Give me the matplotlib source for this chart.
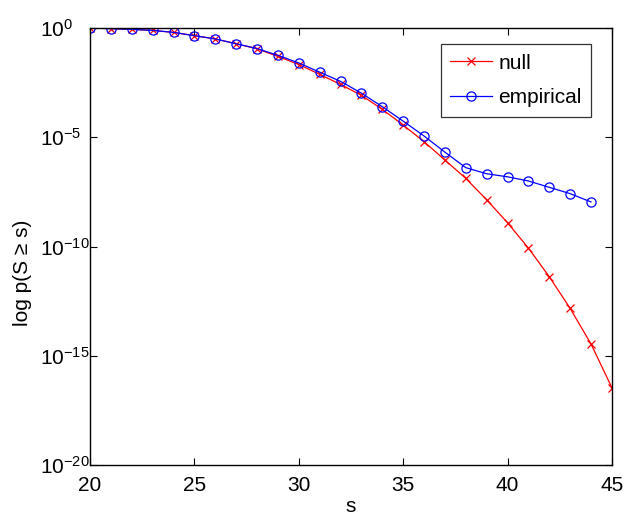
import numpy as np
import matplotlib
matplotlib.use('Agg')
import matplotlib.pyplot as plt

plt.rcParams['font.family'] = ['Liberation Sans', 'DejaVu Sans']
plt.rcParams['mathtext.fontset'] = 'custom'
plt.rcParams['mathtext.rm'] = 'Liberation Sans'
plt.rcParams['mathtext.it'] = 'Liberation Sans:italic'
plt.rcParams['font.size'] = 15

s_null = np.arange(20, 46)
log_null = [0.0, -0.03, -0.06, -0.11, -0.2, -0.35, -0.5, -0.72, -0.95,
            -1.3, -1.67, -2.12, -2.58, -3.08, -3.72, -4.44, -5.2, -6.04,
            -6.88, -7.86, -8.91, -10.07, -11.38, -12.83, -14.46, -16.46]

s_emp = np.arange(20, 45)
log_emp = [0.0, -0.03, -0.06, -0.11, -0.2, -0.35, -0.5, -0.72, -0.94,
           -1.25, -1.6, -2.02, -2.44, -2.98, -3.6, -4.26, -4.94, -5.68,
           -6.39, -6.67, -6.81, -7.0, -7.29, -7.58, -7.96]

p_null = 10.0 ** np.array(log_null)
p_emp = 10.0 ** np.array(log_emp)

fig = plt.figure(figsize=(6.25, 5.14), dpi=100)
ax = fig.add_axes([0.144, 0.0953, 0.835, 0.8502])

ax.semilogy(s_null, p_null, color='red', marker='x', markersize=5.5,
            linewidth=0.9, markeredgewidth=0.9, label='null')
ax.semilogy(s_emp, p_emp, color='blue', marker='o', markersize=6.6,
            markerfacecolor='none', linewidth=0.9, markeredgewidth=0.9,
            label='empirical')

ax.set_xlim(20, 45)
ax.set_ylim(1e-20, 1)
ax.set_xticks([20, 25, 30, 35, 40, 45])
ax.set_yticks([1e-20, 1e-15, 1e-10, 1e-5, 1e0])
ax.minorticks_off()
ax.tick_params(direction='in', top=True, right=True, length=5, width=0.8,
               labelsize=15)
ax.tick_params(axis='x', pad=8)
ax.tick_params(axis='y', pad=36)
for lab in ax.get_yticklabels():
    lab.set_horizontalalignment('left')
for sp in ax.spines.values():
    sp.set_linewidth(1.0)

ax.set_xlabel('s', labelpad=1)
ax.set_ylabel('log p(S \u2265 s)')
ax.yaxis.set_label_coords(-0.111, 0.44)

leg = ax.legend(loc='upper right', bbox_to_anchor=(0.960, 0.963),
                fancybox=False, edgecolor='black', fontsize=15,
                handlelength=2.0, borderpad=0.45, labelspacing=0.75,
                handletextpad=0.3, borderaxespad=0.0)
leg.get_frame().set_linewidth(0.9)

fig.savefig('out.png', dpi=100)
